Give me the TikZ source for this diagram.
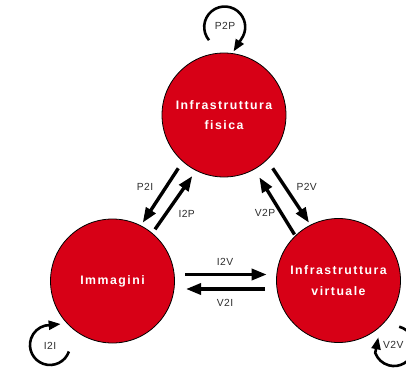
\documentclass[tikz,border=0pt]{standalone}
\usepackage{fontspec}
\setmainfont{Liberation Sans}
\newfontfamily\circfont[LetterSpace=12]{Liberation Sans}
\newfontfamily\labfont[LetterSpace=4]{Liberation Sans}
\usetikzlibrary{arrows.meta,calc}
\definecolor{circred}{RGB}{215,0,22}
\definecolor{labgray}{RGB}{45,45,45}
\begin{document}
\begin{tikzpicture}[x=1pt,y=-1pt,
  state/.style={circle,draw=black,line width=0.8pt,fill=circred,minimum size=124pt,inner sep=0pt,
    text=white,font=\circfont\bfseries\fontsize{12.3}{20.5}\selectfont,align=center},
  flow/.style={line width=3.4pt,-{Triangle[length=15pt,width=11pt]}},
  loopar/.style={line width=2.6pt,-{Triangle[length=12pt,width=9pt]}},
  lab/.style={text=labgray,font=\labfont\fontsize{10.3}{11}\selectfont,inner sep=0pt}]
\useasboundingbox (0,0) rectangle (406,369);

\node[state] (P) at (224,115) {Infrastruttura\\fisica};
\node[state] (I) at (112.5,281) {Immagini};
\node[state] (V) at (338.5,280.5) {Infrastruttura\\virtuale};

% P <-> I
\draw[flow] ($(P)+(-45.7,53.3)$) -- ($(I)+(30.2,-58.3)$);
\draw[flow] ($(I)+(42.5,-51.7)$) -- ($(P)+(-31.7,61)$);
% P <-> V
\draw[flow] ($(P)+(48.7,53.3)$) -- ($(V)+(-29.5,-57.8)$);
\draw[flow] ($(V)+(-44,-46)$) -- ($(P)+(35.3,62.3)$);
% I <-> V
\draw[flow] ($(I)+(72.5,-6.5)$) -- ($(V)+(-71.8,-6)$);
\draw[flow] ($(V)+(-73.5,8.5)$) -- ($(I)+(73.5,8)$);

\node[lab] (lP2I) at (145,186.7) {P2I};
\node[lab] (lI2P) at (186.7,214) {I2P};
\node[lab] (lP2V) at (306.7,186.7) {P2V};
\node[lab] (lV2P) at (265,213.3) {V2P};
\node[lab] (lI2V) at (225,261.7) {I2V};
\node[lab] (lV2I) at (225,302.5) {V2I};

% self loops
\coordinate (sP) at (209,40.2);
\draw[loopar] (sP) arc[start angle=140,end angle=395,radius=20.5] -- ($(P)+(9.5,-63.5)$);
\node[lab] (lP2P) at (225,26) {P2P};

\coordinate (sI) at (68.9,351.5);
\draw[loopar] (sI) arc[start angle=19,end angle=256,radius=20] -- ($(I)+(-51.8,43)$);
\node[lab] (lI2I) at (50,346) {I2I};

\coordinate (sV) at (399.2,326.7);
\draw[loopar] (sV) arc[start angle=-75,end angle=160,radius=20] -- ($(V)+(39.8,56.8)$);
\node[lab] (lV2V) at (393.3,345) {V2V};
\end{tikzpicture}
\end{document}
